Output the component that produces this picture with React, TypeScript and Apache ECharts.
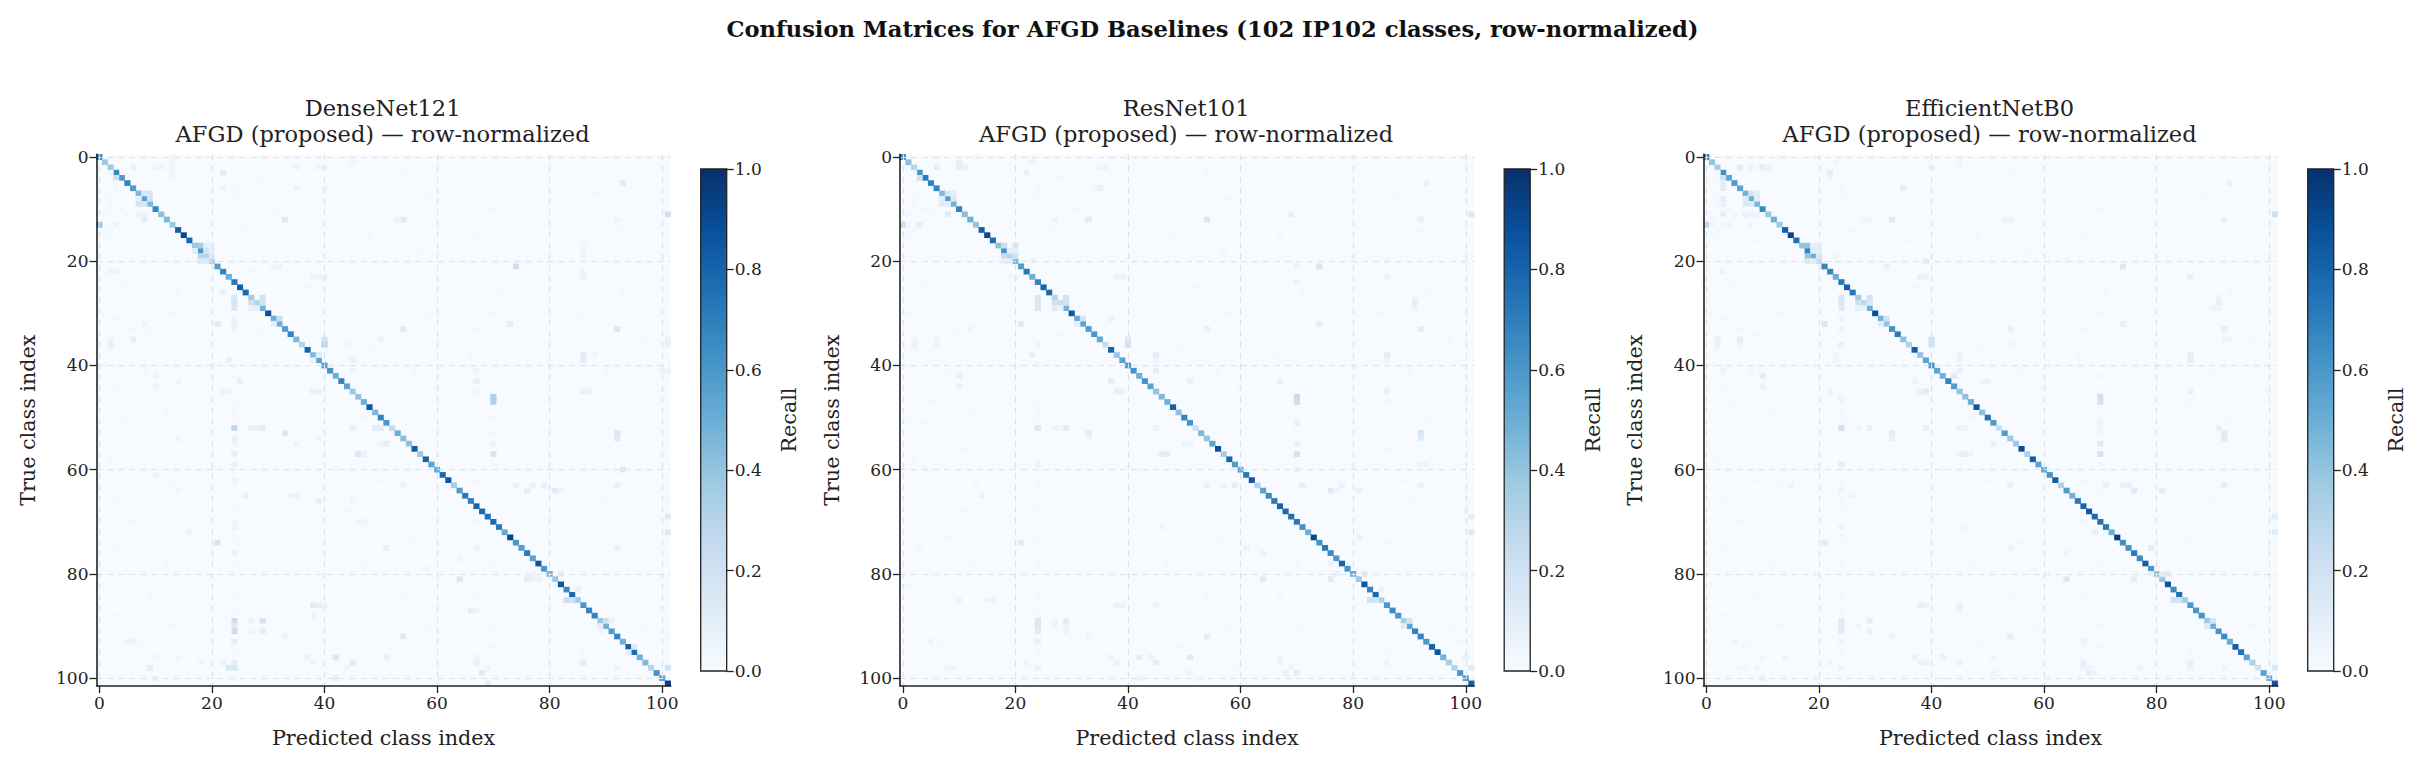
import React, { useEffect, useRef } from "react";
import * as echarts from "echarts";

const FIG_TITLE = "Confusion Matrices for AFGD Baselines (102 IP102 classes, row-normalized)";
const MODELS = ["DenseNet121", "ResNet101", "EfficientNetB0"];
const SUBTITLE = "AFGD (proposed) — row-normalized";
const CLASSES = Array.from({ length: 102 }, (_, i) => String(i));
const CBAR_TICKS = [0, 0.2, 0.4, 0.6, 0.8, 1.0];
const BLUES = ["#f7fbff", "#deebf7", "#c6dbef", "#9ecae1", "#6baed6", "#4292c6", "#2171b5", "#08519c", "#08306b"];

const diagDense = [
  .72, .38, .38, .65, .58, .68, .58, .45, .55, .45, .68, .42, .45, .38, .82, .9, .78, .38, .6, .3,
  .32, .58, .68, .5, .72, .82, .78, .35, .3, .48, .88, .5, .5, .58, .68, .45, .3, .8, .45, .55,
  .58, .62, .5, .68, .55, .38, .4, .5, .85, .45, .68, .6, .25, .5, .42, .42, .82, .38, .8, .55,
  .5, .78, .85, .35, .58, .72, .7, .8, .78, .75, .78, .72, .52, .92, .6, .58, .72, .55, .85, .6,
  .5, .38, .85, .65, .78, .35, .6, .68, .68, .38, .5, .58, .68, .5, .82, .78, .48, .45, .3, .62,
  .55, .95,
];
const diagRes = [
  .7, .42, .3, .6, .72, .68, .68, .45, .58, .48, .68, .42, .5, .4, .82, .92, .78, .42, .62, .3,
  .45, .58, .72, .5, .68, .8, .78, .3, .25, .48, .85, .52, .55, .58, .6, .52, .25, .8, .38, .55,
  .6, .62, .5, .62, .55, .4, .45, .5, .82, .42, .68, .62, .22, .45, .4, .55, .88, .35, .8, .58,
  .52, .72, .85, .3, .55, .65, .72, .8, .78, .75, .72, .62, .5, .9, .62, .72, .65, .6, .8, .62,
  .55, .38, .85, .68, .78, .32, .6, .65, .6, .35, .55, .68, .68, .6, .8, .85, .48, .35, .3, .6,
  .58, .82,
];
const diagEff = [
  .72, .4, .35, .62, .55, .58, .55, .48, .5, .45, .65, .38, .5, .38, .82, .92, .75, .4, .68, .5,
  .25, .68, .68, .5, .72, .82, .72, .35, .28, .5, .88, .48, .4, .62, .72, .42, .32, .82, .4, .55,
  .62, .55, .48, .68, .58, .4, .42, .5, .85, .42, .75, .58, .22, .58, .38, .38, .88, .32, .82, .55,
  .5, .62, .82, .32, .58, .48, .72, .8, .85, .78, .75, .72, .5, .95, .62, .62, .72, .65, .82, .6,
  .42, .38, .85, .65, .75, .35, .6, .6, .62, .38, .5, .6, .65, .52, .82, .75, .55, .32, .2, .55,
  .5, .85,
];

// [row, col, recall]
const offDense = [
  [13,0,.42],[13,3,.05],[4,3,.2],[2,6,.07],[2,10,.05],[2,11,.04],[1,13,.04],[2,13,.04],[3,13,.04],[4,13,.03],
  [3,22,.12],[6,22,.06],[12,33,.12],[6,35,.06],[2,35,.05],[2,40,.05],[2,39,.04],[1,45,.04],[6,40,.05],
  [7,8,.15],[7,9,.15],[8,7,.1],[8,9,.18],[9,7,.18],[9,8,.15],[11,7,.05],[11,8,.06],[12,8,.1],[5,3,.03],[6,3,.03],
  [17,18,.35],[17,19,.1],[17,20,.06],[18,17,.1],[18,19,.18],[18,20,.1],[19,18,.28],[19,20,.12],[20,18,.12],[20,19,.12],
  [27,24,.15],[28,24,.18],[29,24,.15],[27,29,.2],[28,27,.2],[28,29,.2],[29,27,.08],[29,28,.1],
  [32,21,.12],[31,24,.05],[32,24,.08],[33,24,.05],[31,32,.22],[32,31,.1],[35,6,.1],[36,2,.1],[35,2,.06],
  [39,23,.08],[38,39,.12],[39,38,.08],[35,40,.18],[36,40,.3],[39,45,.08],[36,44,.04],[41,45,.06],
  [45,38,.07],[45,39,.08],[43,25,.08],[45,23,.05],[45,22,.05],[42,10,.06],[44,10,.06],[43,14,.05],
  [22,3,.06],[22,2,.04],[21,31,.05],[21,32,.05],[23,38,.05],[23,39,.06],[23,40,.05],[26,22,.08],[32,8,.05],[26,14,.04],
  [12,54,.12],[12,53,.05],[11,101,.2],[21,74,.22],[23,86,.08],[22,86,.04],[17,86,.04],[18,86,.05],[19,86,.05],
  [33,54,.12],[33,92,.15],[32,73,.1],[12,92,.05],[5,93,.12],[38,86,.12],[39,86,.1],[38,88,.04],[35,101,.08],[36,101,.08],
  [46,70,.32],[47,70,.32],[41,67,.05],[43,67,.08],[45,67,.05],[45,86,.07],[45,87,.06],[41,100,.05],[41,101,.05],[35,50,.05],
  [57,70,.18],[53,92,.15],[54,92,.12],[55,70,.06],[55,50,.06],[55,51,.1],[60,93,.14],
  [63,54,.06],[63,74,.08],[63,77,.08],[63,79,.07],[63,92,.08],[64,76,.1],[64,81,.12],[64,82,.05],
  [69,101,.12],[72,101,.12],[75,51,.08],[75,67,.06],[75,92,.08],[77,64,.05],[79,58,.04],
  [81,64,.15],[81,76,.12],[81,77,.07],[81,78,.06],[80,82,.1],[80,77,.06],[85,83,.22],[85,84,.2],[83,85,.08],
  [87,66,.1],[87,67,.05],[92,54,.12],[89,90,.2],[89,91,.06],[90,89,.1],[91,89,.05],[94,95,.12],[95,94,.1],
  [96,51,.08],[96,67,.04],[97,86,.1],[97,67,.07],[98,92,.06],[98,101,.2],[99,68,.12],[98,69,.06],[101,69,.1],
  [52,24,.28],[52,27,.08],[52,28,.08],[52,29,.1],[53,33,.15],[55,35,.06],[54,39,.05],[57,24,.1],[59,24,.08],[55,24,.06],[54,24,.08],
  [57,46,.15],[57,47,.06],[52,45,.08],[52,49,.12],[52,50,.1],[54,14,.06],
  [65,26,.08],[65,34,.05],[65,35,.05],[66,39,.07],[62,24,.05],[61,10,.05],[66,45,.05],[64,14,.04],
  [70,46,.06],[70,47,.05],[71,24,.06],[70,24,.04],[72,16,.06],[74,21,.18],[76,24,.07],
  [86,38,.12],[86,39,.1],[86,40,.05],[88,38,.05],[89,24,.22],[89,27,.05],[89,29,.18],[90,24,.12],[91,24,.22],[91,27,.05],[91,29,.1],
  [93,24,.1],[92,33,.05],[96,42,.15],[96,37,.07],[96,10,.04],[96,14,.04],[97,22,.07],[97,24,.1],[97,45,.12],[97,38,.05],[97,18,.04],
  [98,9,.1],[98,23,.15],[98,24,.15],[98,44,.06],[100,10,.07],[100,42,.1],[93,5,.06],[93,6,.06],
];
const offRes = [
  [13,0,.25],[13,3,.1],[13,1,.05],[2,6,.1],[1,10,.08],[2,10,.1],[2,11,.07],[4,3,.2],[3,22,.08],[1,23,.05],[2,35,.05],[2,36,.05],
  [5,93,.07],[6,35,.08],[6,34,.04],[7,8,.15],[7,9,.1],[8,7,.1],[8,9,.15],[9,7,.12],[9,8,.1],[11,8,.12],[12,33,.12],[12,54,.15],
  [12,27,.05],[11,69,.08],[11,101,.15],[12,92,.08],[17,18,.22],[17,20,.15],[18,19,.1],[18,20,.1],[19,18,.25],[19,20,.2],[20,18,.08],[20,19,.1],[20,23,.06],
  [21,74,.15],[21,70,.05],[23,38,.06],[23,39,.06],[23,86,.06],[23,19,.04],[23,20,.05],[24,70,.06],
  [27,24,.15],[28,24,.15],[29,24,.15],[27,29,.2],[28,27,.2],[28,29,.2],[29,27,.12],[29,28,.06],[28,91,.1],[27,91,.05],[29,91,.05],
  [31,37,.07],[32,21,.12],[32,74,.1],[33,54,.08],[33,92,.1],[33,12,.05],[31,32,.18],[32,31,.08],
  [35,40,.15],[36,40,.2],[36,2,.08],[35,6,.05],[35,2,.04],[36,6,.05],[36,24,.05],[38,23,.08],[38,45,.12],[39,45,.05],[38,86,.1],[39,86,.06],
  [41,45,.1],[42,10,.08],[44,10,.07],[43,37,.1],[43,51,.07],[43,67,.07],[45,38,.08],[45,39,.07],[45,86,.08],[46,70,.25],[47,70,.22],
  [52,24,.15],[52,27,.05],[52,29,.12],[52,28,.04],[52,45,.07],[51,70,.08],[53,33,.1],[53,92,.18],[54,92,.12],[54,33,.05],
  [55,50,.06],[55,51,.06],[55,70,.07],[57,46,.1],[57,47,.1],[57,70,.2],[60,70,.08],[59,24,.06],[59,92,.05],[59,93,.05],
  [63,54,.07],[63,57,.06],[63,59,.1],[63,71,.1],[63,92,.08],[63,78,.06],[64,76,.12],[64,81,.08],[64,77,.05],[65,14,.07],
  [69,101,.1],[72,101,.12],[68,100,.05],[74,21,.12],[75,61,.06],[76,64,.06],[73,81,.07],[71,46,.04],[78,76,.07],[80,82,.12],[80,77,.08],
  [81,64,.12],[81,76,.12],[85,83,.2],[85,84,.18],[83,85,.08],[86,38,.08],[86,39,.06],[86,45,.07],[85,15,.05],[85,16,.05],[85,10,.06],
  [89,24,.15],[89,29,.12],[89,27,.05],[89,90,.18],[90,24,.15],[90,29,.07],[90,27,.05],[91,24,.12],[91,29,.05],[90,89,.1],
  [93,24,.08],[92,54,.1],[92,33,.05],[93,5,.05],[96,42,.1],[96,44,.07],[96,51,.12],[96,37,.06],[96,67,.05],[96,100,.08],
  [97,38,.07],[97,45,.1],[97,22,.05],[97,86,.05],[97,67,.05],[98,8,.05],[98,9,.05],[98,24,.06],[98,101,.12],[98,59,.03],
  [99,68,.08],[99,70,.1],[98,69,.06],[100,42,.06],[99,51,.05],
];
const offEff = [
  [13,0,.3],[13,1,.06],[13,3,.05],[13,4,.04],[13,8,.04],[4,3,.2],[5,3,.1],[6,3,.12],[8,3,.1],[9,3,.08],[11,3,.1],
  [2,6,.12],[2,8,.05],[2,10,.1],[2,11,.06],[3,22,.1],[4,22,.05],[1,23,.04],[2,40,.07],[1,45,.05],[2,45,.03],[5,93,.08],[6,35,.1],
  [12,33,.12],[12,28,.05],[12,29,.05],[7,8,.18],[7,9,.1],[8,7,.12],[8,9,.12],[9,7,.15],[9,8,.12],[11,7,.08],[11,8,.06],[11,9,.05],
  [17,18,.4],[17,19,.1],[17,20,.08],[18,19,.12],[18,20,.1],[19,18,.4],[19,20,.15],[20,18,.15],[20,19,.1],[20,39,.08],[19,23,.05],
  [21,74,.15],[21,32,.07],[11,101,.22],[12,92,.07],[12,54,.06],[12,53,.05],[23,86,.08],[23,38,.07],[23,39,.06],[22,3,.06],
  [27,24,.15],[28,24,.15],[29,24,.12],[27,29,.2],[28,27,.2],[28,29,.15],[29,27,.08],[29,28,.08],[29,90,.05],[28,91,.08],[27,91,.05],[29,91,.06],
  [32,21,.15],[31,24,.05],[31,32,.2],[32,31,.12],[32,74,.08],[33,54,.08],[33,92,.1],[33,24,.05],
  [35,2,.08],[36,2,.08],[35,6,.1],[36,6,.05],[35,40,.2],[36,40,.22],[36,24,.08],[36,54,.04],[35,92,.05],[35,93,.05],
  [38,23,.05],[39,23,.04],[38,45,.07],[39,45,.06],[38,86,.1],[39,86,.1],[41,3,.05],[42,10,.1],[44,10,.07],[41,45,.08],[42,44,.12],
  [43,37,.05],[43,49,.05],[43,50,.07],[45,38,.08],[45,39,.12],[45,86,.08],[45,22,.05],[46,70,.2],[47,70,.18],[46,24,.05],[47,24,.04],
  [52,24,.2],[52,29,.07],[52,27,.05],[52,39,.08],[52,45,.07],[52,46,.05],[52,91,.07],[51,70,.06],[52,70,.05],
  [53,33,.12],[54,33,.08],[53,92,.12],[54,92,.12],[55,51,.08],[55,70,.12],[57,45,.07],[57,46,.1],[57,47,.05],[57,70,.18],[59,24,.1],
  [63,54,.08],[63,71,.08],[63,74,.07],[63,75,.08],[63,92,.1],[63,15,.06],[64,76,.12],[64,81,.1],[64,24,.06],[65,26,.06],[66,24,.03],
  [69,101,.1],[72,101,.1],[72,69,.08],[71,24,.06],[71,46,.04],[74,21,.12],[76,64,.05],[75,54,.05],[75,79,.1],
  [81,64,.15],[81,76,.1],[79,58,.04],[80,82,.12],[80,81,.1],[80,79,.08],[85,83,.2],[85,84,.18],
  [86,38,.08],[86,39,.06],[86,45,.07],[87,45,.05],[89,24,.12],[89,29,.1],[90,24,.12],[90,27,.05],[91,24,.12],[91,29,.07],
  [89,90,.18],[90,89,.12],[92,33,.05],[92,54,.1],[93,24,.05],[93,67,.06],[93,5,.05],
  [96,37,.07],[96,42,.08],[96,14,.05],[96,51,.05],[96,10,.04],[97,38,.07],[97,39,.06],[97,45,.08],[97,22,.05],[97,67,.08],[97,86,.08],
  [98,6,.03],[98,7,.03],[98,9,.04],[98,24,.05],[98,67,.07],[98,68,.05],[98,77,.07],[98,101,.15],[98,92,.05],[98,86,.07],
  [99,68,.1],[99,69,.06],[99,51,.05],[100,10,.07],[100,42,.03],
];
// Faint cells seen in all three matrices: [row, col]
const faintShared = [
  [0,13],[3,2],[5,2],[7,2],[9,2],[11,1],[11,5],[10,4],[14,2],[15,1],[16,9],[24,4],[25,0],[30,1],[30,13],[31,3],[33,6],[34,9],[37,2],
  [40,1],[41,8],[44,3],[47,5],[49,12],[50,1],[51,4],[56,11],[58,2],[60,4],[62,9],[63,13],[66,3],[68,11],[70,6],[73,8],[75,3],[78,12],[80,5],[82,1],[84,9],[88,3],[90,13],[94,7],
  [6,24],[8,24],[4,28],[10,31],[14,26],[16,36],[22,27],[25,37],[30,30],[34,28],[40,24],[42,24],[47,24],[49,24],[50,24],[60,24],[63,24],[67,24],[73,24],[78,24],[84,24],[87,24],[95,24],[100,24],
  [3,54],[8,58],[15,48],[18,57],[25,52],[30,58],[37,49],[41,56],[44,60],[50,47],[60,42],[62,50],[68,44],[74,56],[78,47],[84,54],[90,58],[94,49],[100,52],
  [10,70],[15,67],[20,64],[26,71],[30,70],[33,67],[38,66],[42,70],[50,70],[53,70],[59,70],[62,67],[65,70],[70,67],[78,70],[84,67],[90,70],[94,70],
  [7,88],[14,92],[20,86],[26,93],[30,85],[35,97],[41,90],[47,86],[50,93],[56,86],[62,89],[66,90],[74,86],[80,90],[85,93],[90,97],[93,99],[95,86],[20,100],[30,100],[45,100],[57,100],[66,101],[75,100],[87,100],[92,101],
];
const FAINT_LEVEL = 0.02;

const diagonals = [diagDense, diagRes, diagEff];
const offDiagonals = [offDense, offRes, offEff];

const FONT = "DejaVu Serif";
const INK = "#222222";
const PANEL_STEP = 803.5;
const every20 = (i: number) => i % 20 === 0;

function cellsFor(p: number) {
  const seen = new Set<string>();
  const out: number[][] = [];
  diagonals[p].forEach((v, i) => { seen.add(i + "," + i); out.push([i, i, v]); });
  offDiagonals[p].forEach(([r, c, v]) => { seen.add(r + "," + c); out.push([c, r, v]); });
  faintShared.forEach(([r, c]) => { if (!seen.has(r + "," + c)) out.push([c, r, FAINT_LEVEL]); });
  return out;
}

function buildOption(): any {
  const grids: any[] = [], xAxes: any[] = [], yAxes: any[] = [], series: any[] = [], visualMaps: any[] = [], titles: any[] = [];
  const gradient = new echarts.graphic.LinearGradient(0, 1, 0, 0,
    BLUES.map((color, i) => ({ offset: i / (BLUES.length - 1), color })));
  titles.push({
    text: FIG_TITLE, left: 1207.5, top: 12, textAlign: "center",
    textStyle: { fontFamily: FONT, fontSize: 22.6, fontWeight: "bold", color: "#111" },
  });
  const dashed = { show: true, alignWithLabel: true, interval: every20, lineStyle: { type: [6, 5], color: "#dde1e8", width: 1.2 } };
  const axisCommon = {
    type: "category", data: CLASSES, boundaryGap: true, nameLocation: "middle", z: 5,
    nameTextStyle: { fontFamily: FONT, fontSize: 20.7, color: INK },
    axisLine: { show: true, onZero: false, lineStyle: { color: INK, width: 1.6 } },
    axisTick: { show: true, alignWithLabel: true, interval: every20, length: 7, lineStyle: { color: INK, width: 1.3 } },
    axisLabel: { show: true, interval: every20, fontFamily: FONT, fontSize: 17, color: INK, margin: 8 },
    splitLine: dashed,
  };
  MODELS.forEach((model, p) => {
    const dx = p * PANEL_STEP;
    const gi = p * 2;
    titles.push({
      text: model + "\n" + SUBTITLE, left: 377.6 + dx, top: 90, textAlign: "center",
      textStyle: { fontFamily: FONT, fontSize: 22.5, fontWeight: "normal", color: INK, lineHeight: 26 },
    });
    grids.push({ left: 96.5 + dx, top: 154.4, width: 574.2, height: 531.6, show: true, backgroundColor: BLUES[0], borderWidth: 0 });
    xAxes.push({ ...axisCommon, gridIndex: gi, position: "bottom", name: "Predicted class index", nameGap: 41 });
    yAxes.push({ ...axisCommon, gridIndex: gi, position: "left", inverse: true, name: "True class index", nameGap: 58 });
    series.push({
      type: "heatmap", xAxisIndex: gi, yAxisIndex: gi, data: cellsFor(p), silent: true,
      progressive: 0, emphasis: { disabled: true },
    });
    visualMaps.push({
      show: false, type: "continuous", min: 0, max: 1, dimension: 2, seriesIndex: p,
      inRange: { color: BLUES },
    });
    grids.push({ left: 700.7 + dx, top: 169, width: 26, height: 502, show: true, backgroundColor: gradient, borderColor: INK, borderWidth: 1.3 });
    xAxes.push({ type: "category", gridIndex: gi + 1, data: ["Recall"], show: false });
    yAxes.push({
      type: "value", gridIndex: gi + 1, position: "right", min: 0, max: 1, interval: 0.2,
      name: "Recall", nameLocation: "middle", nameRotate: 90, nameGap: 52,
      nameTextStyle: { fontFamily: FONT, fontSize: 20.7, color: INK },
      axisLine: { show: false }, splitLine: { show: false },
      axisTick: { show: true, length: 7, lineStyle: { color: INK, width: 1.3 } },
      axisLabel: {
        show: true, fontFamily: FONT, fontSize: 17, color: INK, margin: 8,
        formatter: (v: number) => (CBAR_TICKS.some((t) => Math.abs(t - v) < 1e-6) ? v.toFixed(1) : ""),
      },
    });
  });
  return {
    animation: false, backgroundColor: "#ffffff", title: titles,
    grid: grids, xAxis: xAxes, yAxis: yAxes, series, visualMap: visualMaps,
  };
}

export default function App() {
  const ref = useRef<HTMLDivElement>(null);
  useEffect(() => {
    document.body.style.margin = "0";
    const chart = echarts.init(ref.current!, undefined, { renderer: "svg" });
    chart.setOption(buildOption());
    return () => chart.dispose();
  }, []);
  return <div ref={ref} style={{ width: 2421, height: 762 }} />;
}
